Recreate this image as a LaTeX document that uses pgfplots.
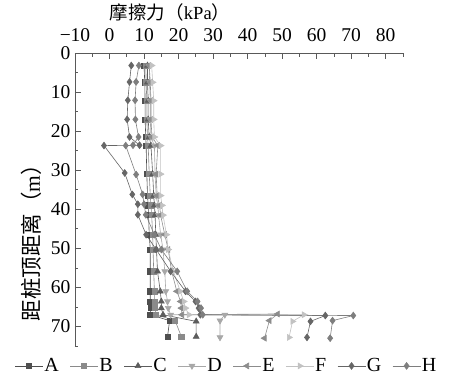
\documentclass[border=0pt]{standalone}
\usepackage{pgfplots}
\pgfplotsset{compat=1.18}
\usepackage{fontspec}
\setmainfont{Liberation Serif}
\newfontfamily\tnr{Liberation Serif}
\newfontfamily\cjk{Noto Sans CJK SC}
\definecolor{cA}{HTML}{4F4F4F}
\definecolor{cB}{HTML}{8A8A8A}
\definecolor{cC}{HTML}{5C5C5C}
\definecolor{cD}{HTML}{A8A8A8}
\definecolor{cE}{HTML}{8C8C8C}
\definecolor{cF}{HTML}{C2C2C2}
\definecolor{cG}{HTML}{666666}
\definecolor{cH}{HTML}{7E7E7E}
\begin{document}
\begin{tikzpicture}
\useasboundingbox (-75pt,-34pt) rectangle (375pt,346pt);
\begin{axis}[
  at={(0,0)}, anchor=south west,
  scale only axis, width=328pt, height=293pt,
  xmin=-10, xmax=85, ymin=0, ymax=75,
  y dir=reverse,
  axis x line*=top, axis y line*=left,
  axis line style={-, color=black!65, line width=0.9pt},
  xtick={-10,0,...,80}, ytick={0,10,...,70},
  xticklabels={−10,0,10,20,30,40,50,60,70,80},
  minor xtick={-5,5,...,85}, minor ytick={5,15,...,75},
  tick style={color=black!65, line width=0.7pt},
  major tick length=6pt, minor tick length=3.5pt,
  tick align=inside,
  /pgf/number format/assume math mode=true,
  ticklabel style={font=\tnr\fontsize{19.5}{22}\selectfont},
  xticklabel style={yshift=8pt},
  yticklabel style={xshift=-1pt},
  xlabel={{\cjk 摩擦力（}kPa{\cjk ）}},
  xlabel style={at={(rel axis cs:0.29,1)}, anchor=south, yshift=28pt, font=\tnr\fontsize{18.5}{21}\selectfont},
  ylabel={{\cjk 距桩顶距离（}m{\cjk ）}},
  ylabel style={at={(rel axis cs:-0.132,0.37)}, anchor=center, rotate=0, font=\tnr\fontsize{21.5}{24}\selectfont},
  every axis plot/.append style={line width=0.6pt},
  legend columns=8,
  legend style={at={(rel axis cs:0.462,-0.068)}, anchor=center, draw=none, fill=none,
    font=\tnr\fontsize{20}{22}\selectfont, /tikz/every even column/.append style={column sep=9pt},
    /tikz/every odd column/.append style={column sep=-1pt}},
  legend image code/.code={\draw[#1, mark repeat=2, mark phase=2] plot coordinates {(0pt,0pt) (14pt,0pt) (28pt,0pt)};},
]
\addplot[color=cA, mark=square*, mark size=2.6pt] coordinates {
(10.0,3.2) (10.2,7.5) (10.3,12.2) (10.3,17) (10.5,21.5) (10.6,23.7) (10.8,31) (11.0,36.5) (11.2,39) (11.3,41.5) (11.5,46.5) (11.8,50.3) (11.8,55.9) (11.8,61) (11.8,63.6) (11.9,65.3) (11.8,67) (17.4,68.5) (16.8,72.6)};
\addlegendentry{A}
\addplot[color=cB, mark=square*, mark size=2.6pt] coordinates {
(10.5,3.2) (10.6,7.5) (10.8,12.2) (10.8,17) (11.0,21.5) (11.2,23.7) (11.5,31) (11.8,36.5) (12.0,39) (12.2,41.5) (12.5,46.5) (12.6,50.3) (12.8,55.9) (13.0,61) (13.0,63.6) (13.2,65.3) (13.5,67) (19.0,68.5) (20.8,72.6)};
\addlegendentry{B}
\addplot[color=cC, mark=triangle*, mark size=3.4pt] coordinates {
(11.0,3.2) (11.0,7.5) (11.2,12.2) (11.2,17) (11.5,21.5) (12.0,23.7) (12.5,31) (12.8,36.5) (13.0,39) (13.2,41.5) (13.4,46.5) (13.6,50.3) (13.9,55.9) (14.7,61) (15.0,63.6) (15.0,65.3) (15.5,67) (25.1,68.7) (25.1,72.6)};
\addlegendentry{C}
\addplot[color=cD, mark=triangle*, mark size=3.4pt, every mark/.append style={rotate=180}] coordinates {
(11.5,3.2) (11.6,7.5) (11.8,12.2) (11.8,17) (12.0,21.5) (13.0,23.7) (13.2,31) (13.5,36.5) (14.0,39) (14.2,41.5) (14.8,46.5) (15.5,50.3) (16.0,55.9) (16.3,61) (16.8,63.6) (17.0,65.3) (17.7,67) (33.4,67) (32.0,68.5) (32.0,72.8)};
\addlegendentry{D}
\addplot[color=cE, mark=triangle*, mark size=3.4pt, every mark/.append style={rotate=90}] coordinates {
(11.5,3.2) (11.8,7.5) (12.0,12.2) (12.0,17) (12.3,21.5) (14.0,23.7) (13.5,31) (13.8,36.5) (14.5,39) (14.8,41.5) (16.0,46.5) (17.0,50.3) (18.0,55.9) (19.5,61) (20.6,63.6) (20.8,65.3) (21.0,67) (48.7,66.8) (46.3,68.5) (44.9,73.0)};
\addlegendentry{E}
\addplot[color=cF, mark=triangle*, mark size=3.4pt, every mark/.append style={rotate=-90}] coordinates {
(12.2,3.2) (12.5,7.5) (12.8,12.2) (12.8,17) (13.0,21.5) (14.8,23.7) (14.8,31) (14.8,36.5) (15.2,39) (15.5,41.5) (16.5,46.5) (17.0,50.3) (18.5,55.9) (20.5,61) (21.5,63.6) (22.0,65.3) (23.0,67) (56.3,67) (53.0,68.7) (52.0,72.8)};
\addlegendentry{F}
\addplot[color=cG, mark=diamond*, mark size=3.4pt] coordinates {
(6.3,3.2) (5.8,7.4) (5.3,12.1) (5.1,17) (5.8,21.5) (8.7,23.6) (-1.6,23.7) (4.4,30.7) (6.6,36.2) (8.2,38.7) (8.2,41.4) (10.6,46.5) (13.5,50.3) (17.7,55.9) (22.0,61) (24.9,63.6) (25.8,65.3) (26.3,67) (62.5,67.2) (58.2,68.7) (57.2,72.8)};
\addlegendentry{G}
\addplot[color=cH, mark=diamond*, mark size=3.4pt] coordinates {
(8.5,3.2) (7.7,7.4) (7.4,12.1) (7.5,17) (8.4,21.5) (6.8,23.6) (4.7,23.7) (7.7,31.1) (9.6,36.2) (10.0,38.7) (10.5,41.4) (13.0,46.5) (15.0,50.3) (19.6,55.9) (22.5,61) (25.5,63.6) (26.5,65.3) (27.0,67) (70.6,67.2) (64.6,68.5) (63.9,73.0)};
\addlegendentry{H}
\end{axis}
\end{tikzpicture}
\end{document}
